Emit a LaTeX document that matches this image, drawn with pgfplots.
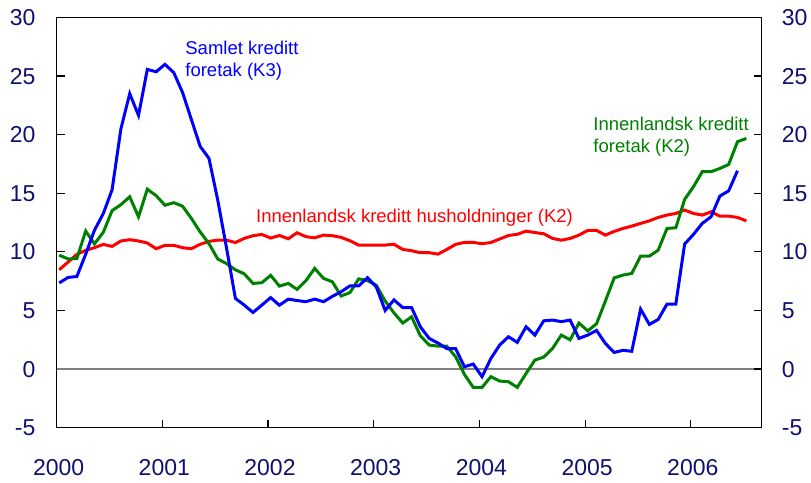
\documentclass[border=0pt]{standalone}
\usepackage{fontspec}
\setmainfont{Liberation Sans}
\usepackage{pgfplots}
\pgfplotsset{compat=1.18}
\usepackage{pgfplotstable}
\definecolor{tickblue}{RGB}{16,16,112}
\definecolor{kblue}{RGB}{0,0,255}
\definecolor{kgreen}{RGB}{0,128,0}
\definecolor{kred}{RGB}{255,0,0}

\pgfplotstableread{
m blue green red
0 7.35 9.72 8.48
1 7.82 9.40 9.13
2 7.90 9.43 9.79
3 9.80 11.78 10.13
4 11.85 10.68 10.36
5 13.27 11.67 10.64
6 15.30 13.52 10.47
7 20.50 14.03 10.93
8 23.50 14.70 11.04
9 21.65 12.99 10.93
10 25.57 15.35 10.76
11 25.37 14.80 10.27
12 26.00 13.98 10.56
13 25.30 14.20 10.56
14 23.60 13.90 10.36
15 21.30 12.86 10.27
16 19.00 11.70 10.65
17 17.98 10.70 10.90
18 14.40 9.39 11.00
19 10.30 9.00 11.00
20 6.03 8.47 10.80
21 5.46 8.13 11.15
22 4.83 7.31 11.38
23 5.46 7.37 11.49
24 6.10 8.00 11.18
25 5.45 7.08 11.40
26 5.97 7.31 11.12
27 5.85 6.80 11.63
28 5.75 7.54 11.30
29 5.97 8.59 11.20
30 5.75 7.74 11.43
31 6.20 7.45 11.38
32 6.60 6.24 11.24
33 7.10 6.52 10.95
34 7.10 7.70 10.58
35 7.80 7.55 10.58
36 7.00 7.15 10.58
37 5.00 5.80 10.58
38 5.90 4.80 10.65
39 5.25 3.93 10.21
40 5.25 4.46 10.10
41 3.60 2.84 9.93
42 2.62 2.05 9.93
43 2.22 1.96 9.81
44 1.75 1.96 10.21
45 1.75 1.05 10.64
46 0.20 -0.45 10.81
47 0.43 -1.56 10.81
48 -0.65 -1.56 10.70
49 0.90 -0.65 10.80
50 2.05 -1.02 11.10
51 2.76 -1.08 11.40
52 2.28 -1.56 11.50
53 3.61 -0.37 11.77
54 2.90 0.77 11.65
55 4.12 1.02 11.55
56 4.18 1.76 11.15
57 4.05 2.90 11.00
58 4.18 2.50 11.15
59 2.62 3.93 11.43
60 2.90 3.26 11.83
61 3.30 3.87 11.83
62 2.19 5.80 11.43
63 1.42 7.78 11.75
64 1.60 8.02 12.00
65 1.52 8.16 12.20
66 5.12 9.64 12.43
67 3.81 9.64 12.65
68 4.24 10.15 12.94
69 5.55 12.00 13.14
70 5.55 12.06 13.28
71 10.67 14.48 13.57
72 11.49 15.56 13.28
73 12.43 16.84 13.14
74 13.00 16.84 13.42
75 14.76 17.12 13.05
76 15.21 17.46 13.05
77 16.92 19.40 12.94
78 nan 19.68 12.65
}\data

\pgfplotsset{
  base/.style={
    scale only axis, width=705.1pt, height=410.2pt,
    xmin=-0.3, xmax=79.75, ymin=-5, ymax=30,
    ytick={-5,0,5,10,15,20,25,30},
    yticklabels={-5,0,5,10,15,20,25,30},
    tick align=inside, major tick length=8pt,
    tick style={black, line width=1.2pt},
    axis line style={line width=1.2pt},
    ticklabel style={font=\fontsize{23}{27}\selectfont, text=tickblue},
  }
}

\begin{document}
\begin{tikzpicture}
\begin{axis}[base, name=ax,
    xtick={-0.3,11.7,23.7,35.7,47.7,59.7,71.7},
    xticklabels={2000,2001,2002,2003,2004,2005,2006},
    xtick pos=bottom, ytick pos=left,
    yticklabel style={anchor=east, inner sep=0pt, xshift=-21pt},
    xticklabel style={anchor=north, inner sep=0pt, yshift=-32pt, xshift=2pt},
  ]
  \addplot[gray, line width=1.2pt] coordinates {(-0.3,0) (79.75,0)};
  \addplot[kred, line width=3pt] table[x=m, y=red] {\data};
  \addplot[kgreen, line width=3pt] table[x=m, y=green] {\data};
  \addplot[kblue, line width=3pt, unbounded coords=discard] table[x=m, y=blue] {\data};
  \node[anchor=base west, text=kblue, font=\fontsize{18.5}{22}\selectfont, inner sep=0pt] at (axis cs:14.3,26.8) {Samlet kreditt};
  \node[anchor=base west, text=kblue, font=\fontsize{18.5}{22}\selectfont, inner sep=0pt] at (axis cs:14.3,24.95) {foretak (K3)};
  \node[anchor=base west, text=kred, font=\fontsize{18.5}{22}\selectfont, inner sep=0pt] at (axis cs:22.33,12.54) {Innenlandsk kreditt husholdninger (K2)};
  \node[anchor=base west, text=kgreen, font=\fontsize{18.5}{22}\selectfont, inner sep=0pt] at (axis cs:60.63,20.39) {Innenlandsk kreditt};
  \node[anchor=base west, text=kgreen, font=\fontsize{18.5}{22}\selectfont, inner sep=0pt] at (axis cs:60.63,18.46) {foretak (K2)};
\end{axis}
\begin{axis}[base,
    xtick=\empty,
    ytick pos=right, yticklabel pos=right,
    yticklabel style={anchor=west, inner sep=0pt, xshift=20pt},
  ]
\end{axis}
\pgfresetboundingbox
\path ([xshift=-56.6pt,yshift=-55.3pt]ax.south west) rectangle ([xshift=49.3pt,yshift=17.5pt]ax.north east);
\end{tikzpicture}
\end{document}
